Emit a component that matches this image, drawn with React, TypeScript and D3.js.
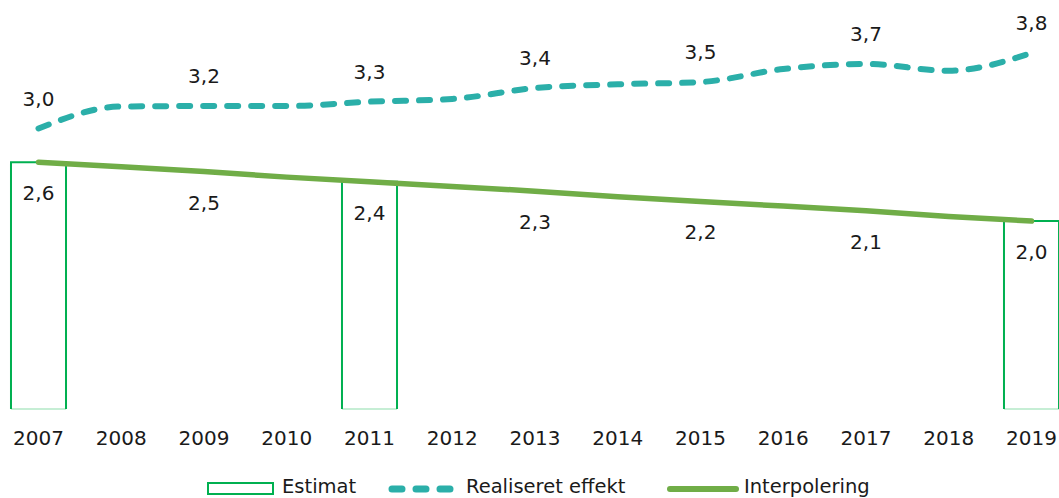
import React from "react";
import * as d3 from "d3";

const years = [2007, 2008, 2009, 2010, 2011, 2012, 2013, 2014, 2015, 2016, 2017, 2018, 2019];
const realiseret = [3.0, 3.235, 3.24, 3.24, 3.287, 3.316, 3.433, 3.473, 3.497, 3.636, 3.69, 3.618, 3.807];
const interpolering = [2.64, 2.59, 2.54, 2.48, 2.43, 2.38, 2.33, 2.27, 2.22, 2.17, 2.12, 2.06, 2.01];
const estimatYears = [2007, 2011, 2019];
const estimatValues = [2.64, 2.43, 2.01];
const labelYears = [2007, 2009, 2011, 2013, 2015, 2017, 2019];
const realLabels = ["3,0", "3,2", "3,3", "3,4", "3,5", "3,7", "3,8"];
const interpLabels = ["2,6", "2,5", "2,4", "2,3", "2,2", "2,1", "2,0"];
const legendLabels = ["Estimat", "Realiseret effekt", "Interpolering"];

const W = 1059;
const H = 498;
const FONT = "'DejaVu Sans', sans-serif";
const TEAL = "#2BAFA9";
const GREEN = "#70AD47";
const BAR = "#00B050";
const TEXT = "#1a1a1a";

export default function App() {
  const x = d3.scalePoint<number>().domain(years).range([38.5, 1031.5]);
  const step = x.step();
  const barW = step * 0.665;
  const y = d3.scaleLinear().domain([0, 4]).range([409, 409 - 4 * 93.5]);

  const realLine = d3
    .line<number>()
    .x((_, i) => x(years[i])!)
    .y((d) => y(d))
    .curve(d3.curveMonotoneX)(realiseret)!;
  const interpLine = d3
    .line<number>()
    .x((_, i) => x(years[i])!)
    .y((d) => y(d))(interpolering)!;

  return (
    <svg
      width={W}
      height={H}
      style={{ position: "absolute", left: 0, top: 0, display: "block", background: "#fff" }}
      fontFamily={FONT}
    >
      {estimatYears.map((yr, i) => {
        const cx = x(yr)!;
        const x0 = cx - barW / 2;
        const x1 = cx + barW / 2;
        const top = y(estimatValues[i]);
        const bot = y(0);
        return (
          <g key={yr}>
            <line x1={x0} x2={x1} y1={bot} y2={bot} stroke="#c6eed5" strokeWidth={2} />
            <path
              d={`M${x0},${bot} L${x0},${top} L${x1},${top} L${x1},${bot}`}
              fill="none"
              stroke={BAR}
              strokeWidth={2}
            />
          </g>
        );
      })}

      <path d={interpLine} fill="none" stroke={GREEN} strokeWidth={5.5} strokeLinecap="round" />

      <path
        d={realLine}
        fill="none"
        stroke={TEAL}
        strokeWidth={6}
        strokeLinecap="round"
        strokeDasharray="11 13"
      />

      {labelYears.map((yr, i) => {
        const idx = years.indexOf(yr);
        return (
          <g key={yr}>
            <text
              x={x(yr)!}
              y={y(realiseret[idx]) - 30}
              textAnchor="middle"
              dominantBaseline="central"
              fontSize={20}
              fill={TEXT}
            >
              {realLabels[i]}
            </text>
            <text
              x={x(yr)!}
              y={y(interpolering[idx]) + 31}
              textAnchor="middle"
              dominantBaseline="central"
              fontSize={20}
              fill={TEXT}
            >
              {interpLabels[i]}
            </text>
          </g>
        );
      })}

      {years.map((yr) => (
        <text key={yr} x={x(yr)!} y={445} textAnchor="middle" fontSize={20} fill={TEXT}>
          {String(yr)}
        </text>
      ))}

      <g>
        <rect x={208} y={483} width={65} height={11} fill="#fff" stroke={BAR} strokeWidth={2} />
        <text x={282} y={493} fontSize={19.5} fill={TEXT}>
          {legendLabels[0]}
        </text>
        <line
          x1={392}
          x2={451}
          y1={489}
          y2={489}
          stroke={TEAL}
          strokeWidth={7}
          strokeLinecap="round"
          strokeDasharray="10 14"
        />
        <text x={466} y={493} fontSize={19.5} fill={TEXT}>
          {legendLabels[1]}
        </text>
        <line x1={670} x2={736} y1={489} y2={489} stroke={GREEN} strokeWidth={6} strokeLinecap="round" />
        <text x={744} y={493} fontSize={19.5} fill={TEXT}>
          {legendLabels[2]}
        </text>
      </g>
    </svg>
  );
}
